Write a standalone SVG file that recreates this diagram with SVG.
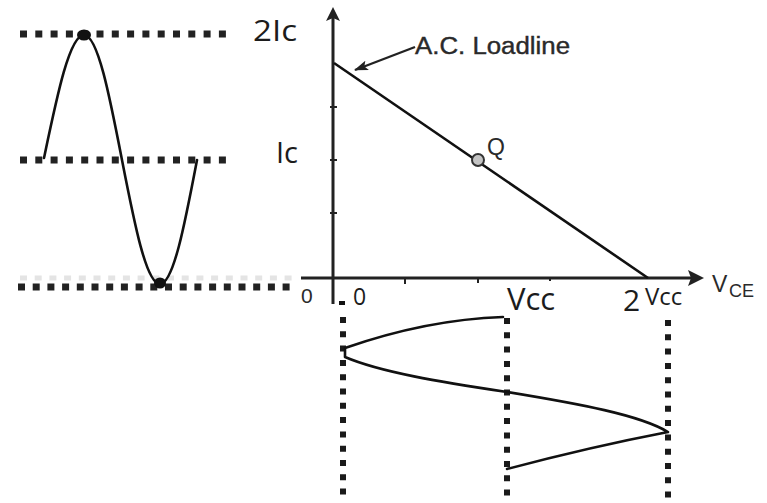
<svg xmlns="http://www.w3.org/2000/svg" width="767" height="503" viewBox="0 0 767 503">
<style>
.dashH{stroke:#222;stroke-width:7;fill:none}
.dashV{stroke:#1a1a1a;stroke-width:6;fill:none;stroke-dasharray:6 8.3}
.axis{stroke:#222;stroke-width:3;fill:none}
.curve{stroke:#111;stroke-width:2.6;fill:none;stroke-linejoin:round;stroke-linecap:round}
.lbl{font-family:"Open Sans","Noto Sans","Liberation Sans",sans-serif;fill:#1c1c1c}
.ar{font-family:"Liberation Sans",Arial,sans-serif;fill:#2a2a2a}
.tick{stroke:#222;stroke-width:2}
</style>
<defs>
<marker id="ah" viewBox="0 0 14 10" refX="13" refY="5" markerWidth="14" markerHeight="10" markerUnits="userSpaceOnUse" orient="auto">
<path d="M0,0 L14,5 L0,10 L3,5 Z" fill="#222"/>
</marker>
</defs>

<g id="guides">
<line class="dashH" x1="20" y1="34" x2="228" y2="34" stroke-dasharray="7 8.3"/>
<line class="dashH" x1="20" y1="160" x2="228" y2="160" stroke-dasharray="7 8.3"/>
<line x1="20" y1="278" x2="292" y2="278" stroke="#e4e4e4" stroke-width="5" stroke-dasharray="7 7.7"/>
<line class="dashH" x1="18" y1="287" x2="293" y2="287" stroke-dasharray="7 7.7" stroke-width="6"/>
<line class="dashV" x1="343" y1="317" x2="343" y2="503"/>
<line class="dashV" x1="507" y1="318" x2="507" y2="503"/>
<line class="dashV" x1="668" y1="320" x2="668" y2="503"/>
</g>

<g id="input-wave">
<path class="curve" d="M44,158 C57,96 69.5,35 84,35 C97.8,35 109.6,96 122,160 C134.4,223.5 146.2,284 160,284 C173.4,284 184.9,223.5 197,160"/>
<ellipse cx="84" cy="35" rx="7" ry="5.5" fill="#111"/>
<ellipse cx="160" cy="283" rx="6" ry="5.5" fill="#111"/>
</g>

<g id="axes">
<line class="axis" x1="333" y1="18" x2="333" y2="304"/>
<polygon points="333,7 326,21 333,18 340,21" fill="#222"/>
<line class="axis" x1="301" y1="278" x2="692" y2="278"/>
<polygon points="704,278 688,270 691,278 688,286" fill="#222"/>
<line class="tick" x1="330" y1="107" x2="337" y2="107"/>
<line class="tick" x1="330" y1="160" x2="337" y2="160"/>
<line class="tick" x1="330" y1="213" x2="337" y2="213"/>
<line class="tick" x1="405" y1="278" x2="405" y2="284"/>
<line class="tick" x1="478" y1="278" x2="478" y2="283"/>
<line class="tick" x1="550" y1="278" x2="550" y2="281"/>
<rect x="339" y="301" width="6" height="4" fill="#111"/>
</g>

<g id="connectors">
<line x1="334" y1="63" x2="648" y2="278" stroke="#111" stroke-width="2.6"/>
<line x1="415" y1="47" x2="355" y2="70" stroke="#222" stroke-width="2.4" marker-end="url(#ah)"/>
</g>

<g id="q-point">
<circle cx="478" cy="160" r="6" fill="#c4c4c4" stroke="#333" stroke-width="2"/>
<text class="ar" x="487" y="155" font-size="23">Q</text>
</g>

<g id="output-wave">
<path class="curve" d="M503,317 Q427,319.5 345,348 L345,357 C380,372 440,382 507,392 C580,404 640,415 668,432 Q590,447 507,469"/>
</g>

<g id="labels">
<text class="ar" x="415" y="54" font-size="23" textLength="155" lengthAdjust="spacingAndGlyphs" stroke="#2a2a2a" stroke-width="0.4">A.C. Loadline</text>
<text class="lbl" x="253" y="41" font-size="29" textLength="44" lengthAdjust="spacingAndGlyphs">2Ic</text>
<text class="lbl" x="276" y="163" font-size="29">Ic</text>
<text class="ar" x="301" y="303" font-size="21">0</text>
<text class="lbl" x="353" y="305" font-size="23">0</text>
<text class="lbl" x="507" y="310" font-size="31">Vcc</text>
<text class="lbl" x="623" y="311" font-size="30">2</text>
<text class="lbl" x="645" y="305" font-size="24">Vcc</text>
<text class="ar" x="712" y="292" font-size="23">V</text>
<text class="ar" x="729" y="297" font-size="18">CE</text>
</g>
</svg>
